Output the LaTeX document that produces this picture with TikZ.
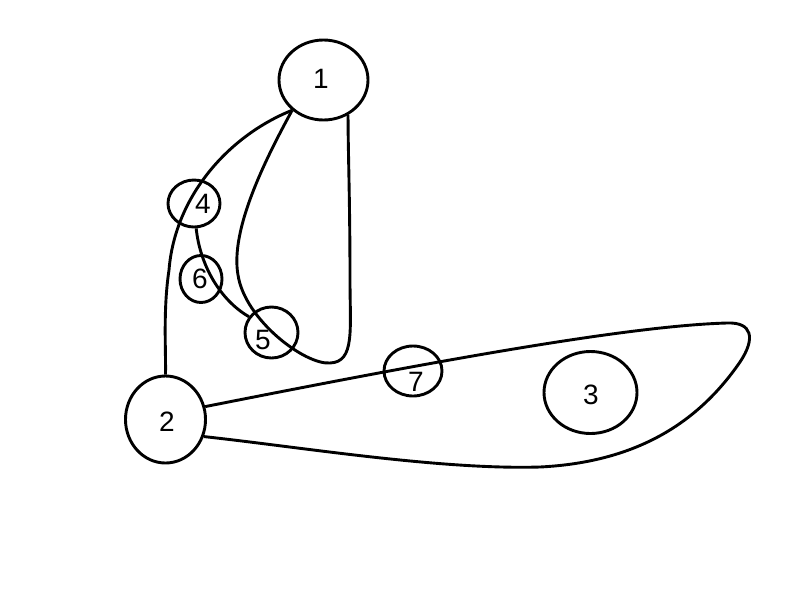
\documentclass[tikz,border=0pt]{standalone}
\usepackage{fontspec}
\setmainfont{Liberation Sans}
\usetikzlibrary{shapes.geometric}
\begin{document}
\begin{tikzpicture}[x=1pt,y=-1pt,
  vert/.style={draw,ellipse,line width=2.9pt,inner sep=0pt},
  lab/.style={inner sep=0pt,font=\fontsize{28}{32}\selectfont},
  edge/.style={line width=2.9pt}]
\useasboundingbox (0,0) rectangle (800,600);
% vertices
\node[vert,minimum width=89pt,minimum height=80pt] (n1) at (323.5,80) {};
\node[vert,minimum width=80pt,minimum height=87pt] (n2) at (165.5,419.5) {};
\node[vert,minimum width=93pt,minimum height=82pt] (n3) at (590.5,392.5) {};
\node[vert,minimum width=52pt,minimum height=47pt] (n4) at (194,203.5) {};
\node[vert,minimum width=53pt,minimum height=51pt] (n5) at (271.5,332.5) {};
\node[vert,minimum width=42pt,minimum height=47pt] (n6) at (201,279) {};
\node[vert,minimum width=58pt,minimum height=50pt] (n7) at (413,371) {};
% labels
\node[lab] (t1) at (321,79) {1};
\node[lab] (t2) at (167,422) {2};
\node[lab] (t3) at (591,395) {3};
\node[lab] (t4) at (203,204) {4};
\node[lab] (t5) at (263,340) {5};
\node[lab] (t6) at (200,279) {6};
\node[lab] (t7) at (416,382) {7};
% edges
\draw[edge] (n1.224) .. controls (230,135) and (175,195) .. (169,270)
  .. controls (163,310) and (166,350) .. (n2.north);
\draw[edge] (n1.224) .. controls (265,160) and (230,230) .. (238,275)
  .. controls (245,320) and (305,365) .. (330,363)
  .. controls (355,362) and (350,330) .. (350,280)
  .. controls (350,200) and (348,150) .. (n1.305);
\draw[edge] (n4.275) .. controls (200,265) and (220,300) .. (n5.145);
\draw[edge] (n2.18) .. controls (400,368) and (620,326) .. (727,323)
  .. controls (752,322) and (756,338) .. (740,362)
  .. controls (700,420) and (640,462) .. (540,467)
  .. controls (440,470) and (300,447) .. (n2.336);
\end{tikzpicture}
\end{document}
